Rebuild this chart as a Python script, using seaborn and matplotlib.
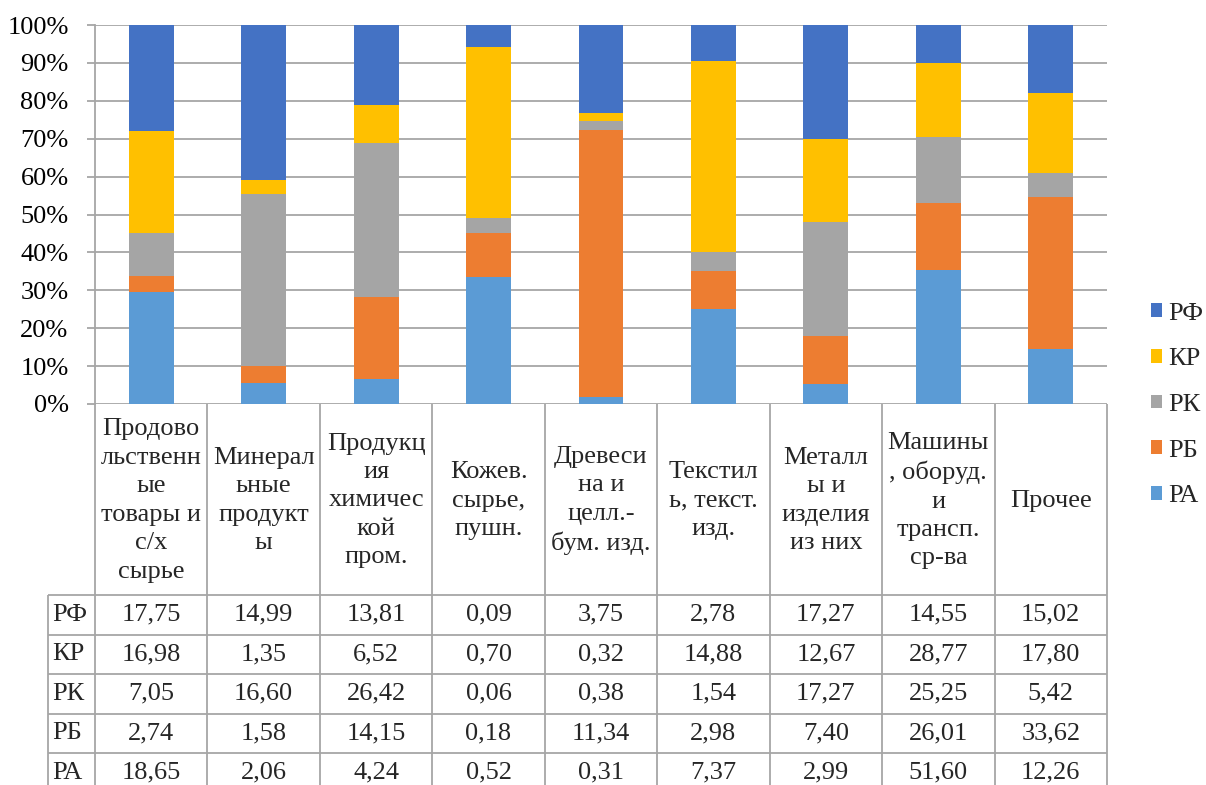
import numpy as np
import pandas as pd
import matplotlib
matplotlib.use("Agg")
import matplotlib.pyplot as plt
from matplotlib.patches import Patch
import seaborn as sns

# Commodity groups (column headers, wrapped as in the table cells)
categories = [
    "Продово\nльственн\nые\nтовары и\nс/х\nсырье",
    "Минерал\nьные\nпродукт\nы",
    "Продукц\nия\nхимичес\nкой\nпром.",
    "Кожев.\nсырье,\nпушн.",
    "Древеси\nна и\nцелл.-\nбум. изд.",
    "Текстил\nь, текст.\nизд.",
    "Металл\nы и\nизделия\nиз них",
    "Машины\n, оборуд.\nи\nтрансп.\nср-ва",
    "Прочее",
]

# Series values (table rows)
series_names = ["РФ", "КР", "РК", "РБ", "РА"]
rf = [17.75, 14.99, 13.81, 0.09, 3.75, 2.78, 17.27, 14.55, 15.02]
kr = [16.98, 1.35, 6.52, 0.70, 0.32, 14.88, 12.67, 28.77, 17.80]
rk = [7.05, 16.60, 26.42, 0.06, 0.38, 1.54, 17.27, 25.25, 5.42]
rb = [2.74, 1.58, 14.15, 0.18, 11.34, 2.98, 7.40, 26.01, 33.62]
ra = [18.65, 2.06, 4.24, 0.52, 0.31, 7.37, 2.99, 51.60, 12.26]

y_ticks = [0, 10, 20, 30, 40, 50, 60, 70, 80, 90, 100]

colors = {
    "РФ": "#4472C4",
    "КР": "#FFC000",
    "РК": "#A5A5A5",
    "РБ": "#ED7D31",
    "РА": "#5B9BD5",
}

values = {"РФ": rf, "КР": kr, "РК": rk, "РБ": rb, "РА": ra}
df = pd.DataFrame(values, index=[c.replace("\n", " ") for c in categories])
share = df.div(df.sum(axis=1), axis=0) * 100

sns.set_theme(style="white")
plt.rcParams["font.family"] = ["Liberation Serif", "DejaVu Serif"]

W, H = 1206, 785
fig = plt.figure(figsize=(W / 100, H / 100), dpi=100)
fig.patch.set_facecolor("white")

X0, X1 = 95, 1107          # plot / table horizontal extent (px)
Y_TOP, Y_ZERO = 25, 404    # 100% and 0% (px)
HDR_BOTTOM = 595
ROW_H = 39.5
LABEL_X0 = 48
GRID = "#A6A6A6"
FS = 19

ax = fig.add_axes([X0 / W, 1 - Y_ZERO / H, (X1 - X0) / W, (Y_ZERO - Y_TOP) / H])

# stacked 100% bars: draw cumulative totals from the top series down
stack_order = ["РА", "РБ", "РК", "КР", "РФ"]  # bottom -> top
cum = share[stack_order].cumsum(axis=1)
xlab = list(share.index)
for name in reversed(stack_order):
    sns.barplot(x=xlab, y=cum[name].values, color=colors[name], saturation=1,
                width=0.4, linewidth=0, edgecolor="none", ax=ax, zorder=3)

ax.set_xlim(-0.5, len(categories) - 0.5)
ax.set_ylim(0, 100)
ax.set_yticks(y_ticks)
ax.set_yticklabels([f"{t}%" for t in y_ticks], fontsize=FS, color="#000000")
ax.set_xticks([])
ax.set_xlabel("")
ax.set_ylabel("")
ax.yaxis.grid(True, color=GRID, lw=1.3, zorder=0)
ax.set_axisbelow(True)
ax.tick_params(axis="y", which="both", left=True, length=6, width=1.3,
               color=GRID, pad=13)
for s in ["top", "right", "bottom"]:
    ax.spines[s].set_visible(False)
ax.spines["left"].set_color(GRID)
ax.spines["left"].set_linewidth(1.3)
ax.set_facecolor("none")

# data table drawn in pixel coordinates
tab = fig.add_axes([0, 0, 1, 1])
tab.set_xlim(0, W)
tab.set_ylim(H, 0)
tab.axis("off")
tab.set_zorder(5)
tab.patch.set_alpha(0)

n = len(categories)
cw = (X1 - X0) / n
row_tops = [HDR_BOTTOM + i * ROW_H for i in range(len(series_names) + 1)]
tab_bottom = row_tops[-1]

lk = dict(color=GRID, lw=1.3, solid_capstyle="butt")
# vertical lines
for i in range(n + 1):
    x = X0 + i * cw
    tab.plot([x, x], [Y_ZERO, tab_bottom], **lk)
tab.plot([LABEL_X0, LABEL_X0], [HDR_BOTTOM, tab_bottom], **lk)
# horizontal lines
for y in row_tops:
    tab.plot([LABEL_X0, X1], [y, y], **lk)

# headers
for i, c in enumerate(categories):
    tab.text(X0 + (i + 0.5) * cw, (Y_ZERO + HDR_BOTTOM) / 2 + 1, c,
             ha="center", va="center", fontsize=FS, linespacing=1.38)

# row labels and values
for r, name in enumerate(series_names):
    yc = row_tops[r] + ROW_H / 2
    tab.text(LABEL_X0 + 4, yc, name, ha="left", va="center", fontsize=FS)
    for i, v in enumerate(values[name]):
        tab.text(X0 + (i + 0.5) * cw, yc, f"{v:.2f}".replace(".", ","),
                 ha="center", va="center", fontsize=FS)

# legend
handles = [Patch(facecolor=colors[s], edgecolor="none", label=s) for s in series_names]
fig.legend(handles=handles, loc="center left",
           bbox_to_anchor=(1140 / W, 1 - 405 / H), frameon=False,
           fontsize=FS, handlelength=0.42, handleheight=0.42,
           handletextpad=0.25, labelspacing=0.9, borderaxespad=0)

fig.savefig("out.png", dpi=100, facecolor="white")
